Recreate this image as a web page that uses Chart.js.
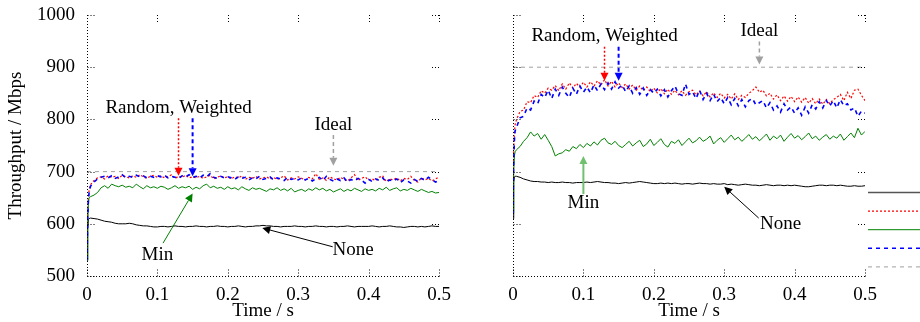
<!DOCTYPE html>
<html>
<head>
<meta charset="utf-8">
<script src="https://cdn.jsdelivr.net/npm/chart.js@4"></script>
<style>
body { margin: 0; background: #fff; }
#wrap { position: relative; width: 920px; height: 322px; }
canvas { position: absolute; top: 0; }
</style>
</head>
<body>
<div id="wrap">
<canvas id="leftChart" width="460" height="322" style="left:0"></canvas>
<canvas id="rightChart" width="460" height="322" style="left:460px"></canvas>
</div>
<script>
// sample times (s)
const times = [0, 0.001, 0.002, 0.003,
	0.005, 0.01, 0.015, 0.02, 0.025, 0.03, 0.035, 0.04, 0.045, 0.05,
	0.055, 0.06, 0.065, 0.07, 0.075, 0.08, 0.085, 0.09, 0.095, 0.1,
	0.105, 0.11, 0.115, 0.12, 0.125, 0.13, 0.135, 0.14, 0.145, 0.15,
	0.155, 0.16, 0.165, 0.17, 0.175, 0.18, 0.185, 0.19, 0.195, 0.2,
	0.205, 0.21, 0.215, 0.22, 0.225, 0.23, 0.235, 0.24, 0.245, 0.25,
	0.255, 0.26, 0.265, 0.27, 0.275, 0.28, 0.285, 0.29, 0.295, 0.3,
	0.305, 0.31, 0.315, 0.32, 0.325, 0.33, 0.335, 0.34, 0.345, 0.35,
	0.355, 0.36, 0.365, 0.37, 0.375, 0.38, 0.385, 0.39, 0.395, 0.4,
	0.405, 0.41, 0.415, 0.42, 0.425, 0.43, 0.435, 0.44, 0.445, 0.45,
	0.455, 0.46, 0.465, 0.47, 0.475, 0.48, 0.485, 0.49, 0.495, 0.5];
const idealTimes = [0, 0.5];

const seriesNames = ['None', 'Random', 'Min', 'Weighted', 'Ideal'];
const xTicks = [0, 0.1, 0.2, 0.3, 0.4, 0.5];
const yTicks = [500, 600, 700, 800, 900, 1000];

// left panel (Mbps)
const leftNone = [530, 590, 608, 610,
	611, 610, 609, 607, 605, 604, 603, 601, 600, 600,
	600, 601, 600, 598, 597, 596, 596, 595, 594, 594,
	595, 595, 594, 595, 596, 595, 595, 594, 595, 595,
	596, 595, 595, 594, 595, 595, 596, 595, 595, 594,
	595, 595, 596, 595, 594, 595, 595, 596, 596, 597,
	596, 596, 595, 595, 594, 595, 595, 595, 596, 595,
	595, 594, 595, 595, 596, 595, 595, 594, 595, 595,
	594, 595, 595, 596, 595, 594, 595, 595, 595, 595,
	596, 595, 594, 595, 595, 596, 595, 594, 594, 593,
	594, 595, 595, 594, 595, 594, 595, 596, 595, 595];
const leftMin = [530, 600, 640, 650,
	652, 655, 660, 669, 673, 668, 676, 673, 671, 674,
	670, 672, 669, 676, 671, 667, 673, 669, 671, 668,
	672, 670, 666, 669, 673, 668, 671, 669, 672, 666,
	670, 667, 673, 676, 669, 672, 668, 670, 666, 671,
	667, 669, 665, 671, 667, 664, 669, 666, 668, 665,
	662, 667, 665, 669, 664, 667, 663, 668, 661, 664,
	666, 662, 667, 664, 669, 665, 668, 663, 666, 661,
	664, 667, 662, 666, 663, 668, 665, 662, 667, 664,
	666, 663, 668, 665, 670, 664, 667, 669, 663, 666,
	664, 668, 665, 662, 666, 663, 660, 662, 659, 660];
const leftRandom = [530, 620, 650, 665,
	675, 683, 688, 690, 686, 692, 689, 691, 687, 693,
	690, 688, 692, 689, 694, 690, 687, 691, 693, 689,
	692, 688, 690, 694, 687, 691, 689, 693, 688, 690,
	688, 691, 687, 690, 693, 686, 689, 692, 688, 690,
	686, 690, 688, 692, 685, 689, 687, 691, 686, 688,
	690, 686, 689, 685, 688, 692, 684, 688, 686, 690,
	687, 684, 689, 686, 696, 685, 688, 683, 690, 686,
	684, 689, 685, 682, 688, 694, 683, 687, 690, 684,
	686, 683, 689, 692, 681, 686, 684, 688, 682, 687,
	685, 691, 683, 680, 688, 684, 687, 682, 686, 690];
const leftWeighted = [530, 610, 645, 660,
	672, 680, 686, 689, 691, 688, 692, 687, 690, 694,
	688, 691, 689, 693, 690, 692, 688, 691, 689, 692,
	690, 693, 688, 691, 689, 687, 692, 690, 694, 689,
	691, 688, 693, 690, 696, 689, 687, 691, 688, 690,
	688, 685, 690, 687, 689, 684, 688, 686, 691, 685,
	687, 690, 684, 688, 686, 683, 689, 685, 687, 684,
	688, 684, 687, 682, 686, 689, 683, 691, 685, 682,
	686, 683, 688, 680, 685, 682, 687, 684, 678, 685,
	681, 686, 683, 688, 680, 684, 682, 686, 679, 684,
	682, 678, 685, 681, 687, 683, 689, 685, 680, 683];
const leftIdeal = [700, 700];

// right panel (Mbps)
const rightNone = [610, 680, 690, 691,
	691, 689, 686, 684, 682, 681, 681, 680, 680, 679,
	680, 679, 679, 680, 679, 679, 678, 679, 679, 679,
	680, 679, 680, 681, 680, 679, 679, 678, 678, 677,
	678, 679, 678, 679, 680, 681, 680, 679, 678, 677,
	677, 678, 677, 678, 677, 678, 677, 676, 677, 677,
	676, 677, 678, 677, 677, 676, 677, 676, 676, 677,
	675, 676, 675, 674, 675, 676, 675, 674, 674, 673,
	674, 675, 674, 673, 674, 674, 673, 674, 673, 674,
	673, 672, 671, 671, 672, 673, 674, 674, 673, 674,
	674, 673, 674, 673, 672, 672, 673, 672, 672, 673];
const rightMin = [620, 700, 730, 738,
	742, 748, 758, 765, 776, 768, 773, 762, 771, 760,
	748, 730, 734, 736, 742, 739, 748, 744, 752, 746,
	754, 749, 757, 751, 760, 764, 755, 752, 758, 750,
	746, 752, 758, 749, 755, 760, 748, 753, 762, 750,
	756, 763, 752, 747, 758, 754, 761, 750, 757, 764,
	755, 759, 766, 758, 762, 768, 753, 760, 765, 756,
	763, 770, 761, 766, 758, 764, 771, 762, 767, 759,
	765, 772, 760, 768, 763, 770, 758, 766, 773, 764,
	769, 761, 767, 774, 763, 768, 760, 766, 771, 762,
	768, 764, 772, 760, 767, 774, 765, 783, 770, 777];
const rightRandom = [620, 740, 775, 790,
	800, 815, 818, 834, 832, 846, 842, 855, 850, 860,
	856, 865, 855, 868, 858, 870, 860, 869, 862, 871,
	862, 872, 864, 874, 866, 876, 864, 873, 862, 870,
	861, 868, 858, 866, 856, 864, 855, 862, 853, 860,
	851, 859, 849, 858, 848, 856, 847, 855, 846, 853,
	856, 847, 854, 845, 853, 843, 851, 842, 850, 841,
	848, 839, 849, 838, 846, 842, 850, 855, 862, 852,
	856, 845, 850, 839, 847, 836, 845, 835, 844, 834,
	843, 833, 842, 831, 840, 830, 839, 829, 838, 830,
	838, 842, 848, 836, 852, 840, 856, 858, 846, 836];
const rightWeighted = [620, 720, 760, 778,
	785, 803, 806, 822, 818, 835, 830, 848, 842, 856,
	840, 858, 846, 862, 850, 842, 860, 848, 864, 852,
	862, 851, 866, 855, 868, 857, 870, 858, 872, 860,
	866, 853, 864, 850, 861, 848, 860, 846, 857, 850,
	858, 845, 857, 843, 855, 864, 849, 846, 868, 848,
	853, 840, 856, 838, 850, 836, 848, 834, 842, 830,
	842, 828, 840, 826, 838, 824, 836, 840, 828, 832,
	836, 822, 832, 818, 826, 814, 830, 818, 824, 812,
	822, 808, 824, 812, 828, 820, 834, 822, 836, 826,
	836, 822, 838, 826, 830, 818, 822, 806, 816, 812];
const rightIdeal = [900, 900];

const FONT = "'Liberation Serif', 'Times New Roman', serif";
const RED = '#ff0000', BLUE = '#0000ff', GREEN = '#008000', GRAY = '#a0a0a0';

const styles = {
	None: { color: '#000000', dash: [], width: 1 },
	Random: { color: RED, dash: [2, 2], width: 1.2 },
	Min: { color: GREEN, dash: [], width: 1 },
	Weighted: { color: BLUE, dash: [4, 4], width: 1.6 },
	Ideal: { color: GRAY, dash: [4, 4], width: 1 }
};

function pts(xs, ys) {
	return ys.map((v, i) => ({ x: xs[i], y: v }));
}

function makeDatasets(none, random, min, weighted, ideal) {
	const vals = { None: none, Random: random, Min: min, Weighted: weighted, Ideal: ideal };
	const order = { None: 4, Random: 3, Min: 2, Weighted: 1, Ideal: 0 };
	return seriesNames.map(name => ({
		label: name,
		data: pts(name === 'Ideal' ? idealTimes : times, vals[name]),
		borderColor: styles[name].color,
		borderDash: styles[name].dash,
		borderWidth: styles[name].width,
		pointRadius: 0,
		tension: 0,
		fill: false,
		order: order[name]
	}));
}

function arrow(ctx, x0, y0, x1, y1, color, dash, width) {
	const ang = Math.atan2(y1 - y0, x1 - x0);
	const hl = 8, hw = 4;
	const bx = x1 - hl * Math.cos(ang), by = y1 - hl * Math.sin(ang);
	ctx.save();
	ctx.strokeStyle = color;
	ctx.fillStyle = color;
	ctx.lineWidth = width;
	ctx.setLineDash(dash);
	ctx.beginPath();
	ctx.moveTo(x0, y0);
	ctx.lineTo(bx, by);
	ctx.stroke();
	ctx.setLineDash([]);
	ctx.beginPath();
	ctx.moveTo(x1, y1);
	ctx.lineTo(bx - hw * Math.sin(ang), by + hw * Math.cos(ang));
	ctx.lineTo(bx + hw * Math.sin(ang), by - hw * Math.cos(ang));
	ctx.closePath();
	ctx.fill();
	ctx.restore();
}

// dotted frame, tick marks, labels, arrows and (optionally) the legend samples
function decor(notes, arrows, withLegend) {
	return {
		id: 'decor',
		afterDatasetsDraw(chart) {
			const ctx = chart.ctx, xs = chart.scales.x, ys = chart.scales.y, a = chart.chartArea;
			const L = Math.round(a.left) + 0.5, B = Math.round(a.bottom) + 0.5;
			ctx.save();
			ctx.strokeStyle = '#000';
			ctx.lineWidth = 1;
			ctx.setLineDash([1, 2]);
			ctx.beginPath();
			ctx.moveTo(L, a.top); ctx.lineTo(L, B); ctx.lineTo(a.right, B);
			ctx.stroke();
			xTicks.forEach(t => {
				const px = Math.round(xs.getPixelForValue(t)) + 0.5;
				ctx.beginPath();
				ctx.moveTo(px, a.top); ctx.lineTo(px, a.top + 7);
				ctx.moveTo(px, B); ctx.lineTo(px, B - 7);
				ctx.stroke();
			});
			yTicks.forEach(v => {
				const py = Math.round(ys.getPixelForValue(v)) + 0.5;
				ctx.beginPath();
				ctx.moveTo(L, py); ctx.lineTo(L + 7, py);
				ctx.moveTo(a.right, py); ctx.lineTo(a.right - 7, py);
				ctx.stroke();
			});
			ctx.restore();

			arrows.forEach(ar => arrow(ctx,
				xs.getPixelForValue(ar.from[0]), ys.getPixelForValue(ar.from[1]),
				xs.getPixelForValue(ar.to[0]), ys.getPixelForValue(ar.to[1]),
				ar.color, ar.dash, ar.width));

			ctx.save();
			ctx.fillStyle = '#000';
			ctx.font = '19px ' + FONT;
			ctx.textAlign = 'center';
			ctx.textBaseline = 'middle';
			notes.forEach(n => ctx.fillText(n.text, xs.getPixelForValue(n.x), ys.getPixelForValue(n.y)));
			ctx.restore();

			if (withLegend) {
				seriesNames.forEach((name, i) => {
					const s = styles[name];
					const y = 192.5 + i * 18.6;
					ctx.save();
					ctx.strokeStyle = name === 'None' ? '#555' : s.color;
					ctx.lineWidth = name === 'None' ? 1.5 : s.width;
					ctx.setLineDash(s.dash);
					ctx.beginPath();
					ctx.moveTo(408, y); ctx.lineTo(460, y);
					ctx.stroke();
					ctx.restore();
				});
			}
		}
	};
}

function makeChart(id, datasets, showY, notes, arrows, withLegend) {
	return new Chart(document.getElementById(id), {
		type: 'line',
		data: { datasets: datasets },
		options: {
			responsive: false,
			animation: false,
			devicePixelRatio: 1,
			layout: { padding: { top: 15, right: showY ? 21 : 55, left: 0, bottom: 0 } },
			plugins: { legend: { display: false }, tooltip: { enabled: false } },
			scales: {
				x: {
					type: 'linear',
					min: 0,
					max: 0.5,
					grid: { display: false, drawTicks: false },
					border: { display: false },
					ticks: {
						stepSize: 0.1,
						padding: 8,
						color: '#000',
						font: { family: FONT, size: 19 },
						maxRotation: 0,
						callback: v => v === 0 ? '0' : v.toFixed(1)
					},
					title: { display: true, text: 'Time / s', color: '#000', padding: 0, font: { family: FONT, size: 19 } },
					afterFit: s => { s.height = 46; s.paddingLeft = 0; s.paddingRight = 0; }
				},
				y: {
					min: 500,
					max: 1000,
					grid: { display: false, drawTicks: false },
					border: { display: false },
					ticks: {
						display: showY,
						stepSize: 100,
						padding: 12,
						color: '#000',
						font: { family: FONT, size: 19 },
						callback: v => String(v)
					},
					title: { display: showY, text: 'Throughput / Mbps', color: '#000', padding: { top: 5, bottom: 0 }, font: { family: FONT, size: 19 } },
					afterFit: s => { s.width = showY ? 87 : 53; s.paddingTop = 0; s.paddingBottom = 0; }
				}
			}
		},
		plugins: [decor(notes, arrows, withLegend)]
	});
}

makeChart('leftChart',
	makeDatasets(leftNone, leftRandom, leftMin, leftWeighted, leftIdeal),
	true,
	[
		{ text: 'Random, Weighted', x: 0.13, y: 822 },
		{ text: 'Ideal', x: 0.35, y: 789 },
		{ text: 'Min', x: 0.10, y: 540 },
		{ text: 'None', x: 0.378, y: 550 }
	],
	[
		{ from: [0.13, 802], to: [0.13, 692], color: RED, dash: [2, 2], width: 1.5 },
		{ from: [0.15, 802], to: [0.15, 691], color: BLUE, dash: [4, 3], width: 2 },
		{ from: [0.35, 770], to: [0.35, 711], color: GRAY, dash: [4, 3], width: 1.5 },
		{ from: [0.108, 563], to: [0.15, 658], color: GREEN, dash: [], width: 1 },
		{ from: [0.349, 556], to: [0.249, 592], color: '#000', dash: [], width: 1 }
	],
	false);

makeChart('rightChart',
	makeDatasets(rightNone, rightRandom, rightMin, rightWeighted, rightIdeal),
	false,
	[
		{ text: 'Random, Weighted', x: 0.13, y: 960 },
		{ text: 'Ideal', x: 0.35, y: 969 },
		{ text: 'Min', x: 0.10, y: 640 },
		{ text: 'None', x: 0.38, y: 600 }
	],
	[
		{ from: [0.13, 939], to: [0.13, 874], color: RED, dash: [2, 2], width: 1.5 },
		{ from: [0.15, 939], to: [0.15, 874], color: BLUE, dash: [4, 3], width: 2 },
		{ from: [0.35, 949], to: [0.35, 905], color: GRAY, dash: [4, 3], width: 1.5 },
		{ from: [0.10, 657], to: [0.10, 730], color: '#70c070', dash: [], width: 2 },
		{ from: [0.349, 611], to: [0.300, 671], color: '#000', dash: [], width: 1 }
	],
	true);
</script>
</body>
</html>
